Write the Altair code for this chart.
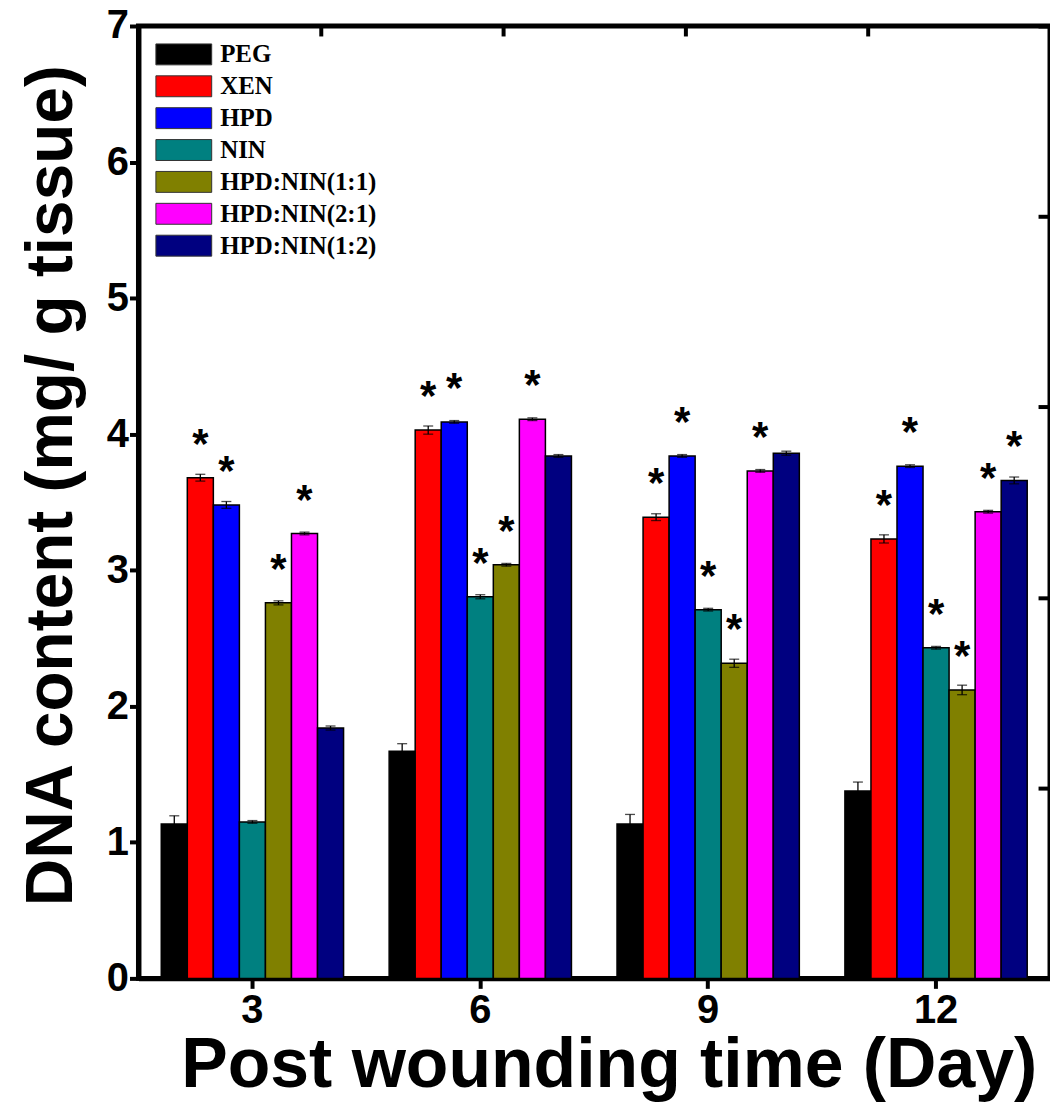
import altair as alt
import pandas as pd

# Sampling days and treatment groups
days = ["3", "6", "9", "12"]
groups = ["PEG", "XEN", "HPD", "NIN", "HPD:NIN(1:1)", "HPD:NIN(2:1)", "HPD:NIN(1:2)"]
colors = ["#000000", "#FF0000", "#0000FF", "#008080", "#808000", "#FF00FF", "#000080"]

# Mean DNA content (mg/g tissue) per group, one value per day
peg = [1.135, 1.67, 1.135, 1.377]
xen = [3.68, 4.03, 3.39, 3.23]
hpd = [3.48, 4.09, 3.84, 3.765]
nin = [1.15, 2.805, 2.71, 2.43]
mix_11 = [2.76, 3.04, 2.316, 2.12]
mix_21 = [3.27, 4.11, 3.73, 3.43]
mix_12 = [1.84, 3.84, 3.86, 3.66]

# Standard errors
peg_err = [0.06, 0.055, 0.07, 0.066]
xen_err = [0.025, 0.03, 0.025, 0.03]
hpd_err = [0.025, 0.01, 0.01, 0.01]
nin_err = [0.01, 0.015, 0.01, 0.01]
mix_11_err = [0.015, 0.01, 0.03, 0.035]
mix_21_err = [0.01, 0.01, 0.01, 0.01]
mix_12_err = [0.015, 0.01, 0.015, 0.025]

# Significance flags (1 = marked with *)
peg_sig = [0, 0, 0, 0]
xen_sig = [1, 1, 1, 1]
hpd_sig = [1, 1, 1, 1]
nin_sig = [0, 1, 1, 1]
mix_11_sig = [1, 1, 1, 1]
mix_21_sig = [1, 1, 1, 1]
mix_12_sig = [0, 0, 0, 1]

series = [
    (peg, peg_err, peg_sig),
    (xen, xen_err, xen_sig),
    (hpd, hpd_err, hpd_sig),
    (nin, nin_err, nin_sig),
    (mix_11, mix_11_err, mix_11_sig),
    (mix_21, mix_21_err, mix_21_sig),
    (mix_12, mix_12_err, mix_12_sig),
]

rows = []
for g, (vals, errs, sigs) in zip(groups, series):
    for d, v, e, s in zip(days, vals, errs, sigs):
        rows.append({"Day": d, "Group": g, "Mean": v, "Lo": v - e, "Hi": v + e, "Star": s})
df = pd.DataFrame(rows)

SANS = "Liberation Sans"

base = alt.Chart(df).encode(
    x=alt.X(
        "Day:N",
        sort=days,
        scale=alt.Scale(paddingInner=0.2, paddingOuter=0.1),
        axis=alt.Axis(
            labelAngle=0, labelFont=SANS, labelFontWeight="bold", labelFontSize=40,
            labelColor="black", labelPadding=2,
            tickSize=10, tickWidth=4, tickColor="black",
            domainWidth=5, domainColor="black", grid=False,
            title="Post wounding time (Day)", titleFont=SANS, titleFontSize=70,
            titleFontWeight="bold", titleColor="black",
            titleX=472, titleY=109, titleAlign="center", titleBaseline="alphabetic",
        ),
    ),
    xOffset=alt.XOffset("Group:N", sort=groups, scale=alt.Scale(paddingInner=0, paddingOuter=0)),
)

yscale = alt.Scale(domain=[0, 7], nice=False, zero=True)

# Wide swatch: the path spans 4 units across and 1.5 down, anchored at its left edge
swatch = "M-1,-0.75H3V0.75H-1Z"

bars = base.mark_bar(stroke="black", strokeWidth=1.5).encode(
    y=alt.Y(
        "Mean:Q",
        scale=yscale,
        axis=alt.Axis(
            values=[0, 1, 2, 3, 4, 5, 6, 7], format="d",
            labelFont=SANS, labelFontWeight="bold", labelFontSize=40,
            labelColor="black", labelPadding=1,
            tickSize=9, tickWidth=4, tickColor="black",
            domainWidth=5, domainColor="black", grid=False,
            title="DNA content (mg/ g tissue)", titleFont=SANS, titleFontSize=66,
            titleFontWeight="bold", titleColor="black", titleAngle=-90,
            titleX=-67, titleY=461, titleAlign="center", titleBaseline="alphabetic",
        ),
    ),
    color=alt.Color(
        "Group:N",
        sort=groups,
        scale=alt.Scale(domain=groups, range=colors),
        legend=alt.Legend(
            orient="none", legendX=17, legendY=14, title=None, padding=0,
            symbolType=swatch, symbolSize=784,
            symbolStrokeColor="#333333", symbolStrokeWidth=1, symbolOpacity=1,
            labelFont="Liberation Serif", labelFontWeight="bold", labelFontSize=25,
            labelColor="black", labelOffset=36, rowPadding=4,
        ),
    ),
)

err_line = base.mark_rule(color="black", strokeWidth=1.3).encode(
    y=alt.Y("Lo:Q", scale=yscale), y2="Hi:Q"
)
cap_hi = base.mark_tick(color="black", thickness=1.3, size=10).encode(y=alt.Y("Hi:Q", scale=yscale))
cap_lo = base.mark_tick(color="black", thickness=1.3, size=10).encode(y=alt.Y("Lo:Q", scale=yscale))

stars = base.transform_filter(alt.datum.Star == 1).mark_text(
    text="*", font=SANS, fontWeight="bold", fontSize=42, color="black",
    baseline="alphabetic", dy=-20,
).encode(y=alt.Y("Mean:Q", scale=yscale))

main = alt.layer(bars, err_line, cap_hi, cap_lo, stars)

# Inward ticks along the top and right edges of the frame
frame_df = pd.DataFrame({"u": [0, 5], "v": [0, 5]})
frame = alt.Chart(frame_df).mark_point(opacity=0).encode(
    x=alt.X(
        "u:Q",
        scale=alt.Scale(domain=[0, 5], nice=False, zero=False),
        axis=alt.Axis(orient="top", values=[0, 1, 2, 3, 4, 5], labels=False, title=None,
                      domain=False, grid=False, tickSize=10, tickWidth=4,
                      tickColor="black", offset=-10),
    ),
    y=alt.Y(
        "v:Q",
        scale=alt.Scale(domain=[0, 5], nice=False, zero=False),
        axis=alt.Axis(orient="right", values=[0, 1, 2, 3, 4, 5], labels=False, title=None,
                      domain=False, grid=False, tickSize=12, tickWidth=4,
                      tickColor="black", offset=-12),
    ),
)

chart = (
    alt.layer(main, frame)
    .resolve_scale(x="independent", y="independent")
    .properties(
        width=915,
        height=956,
        autosize=alt.AutoSizeParams(type="none"),
        padding={"left": 139, "top": 24, "right": 0, "bottom": 125},
        background="white",
    )
    .configure_view(stroke="black", strokeWidth=5)
)

chart.save("out.html", embed_options={"renderer": "svg", "actions": False})
